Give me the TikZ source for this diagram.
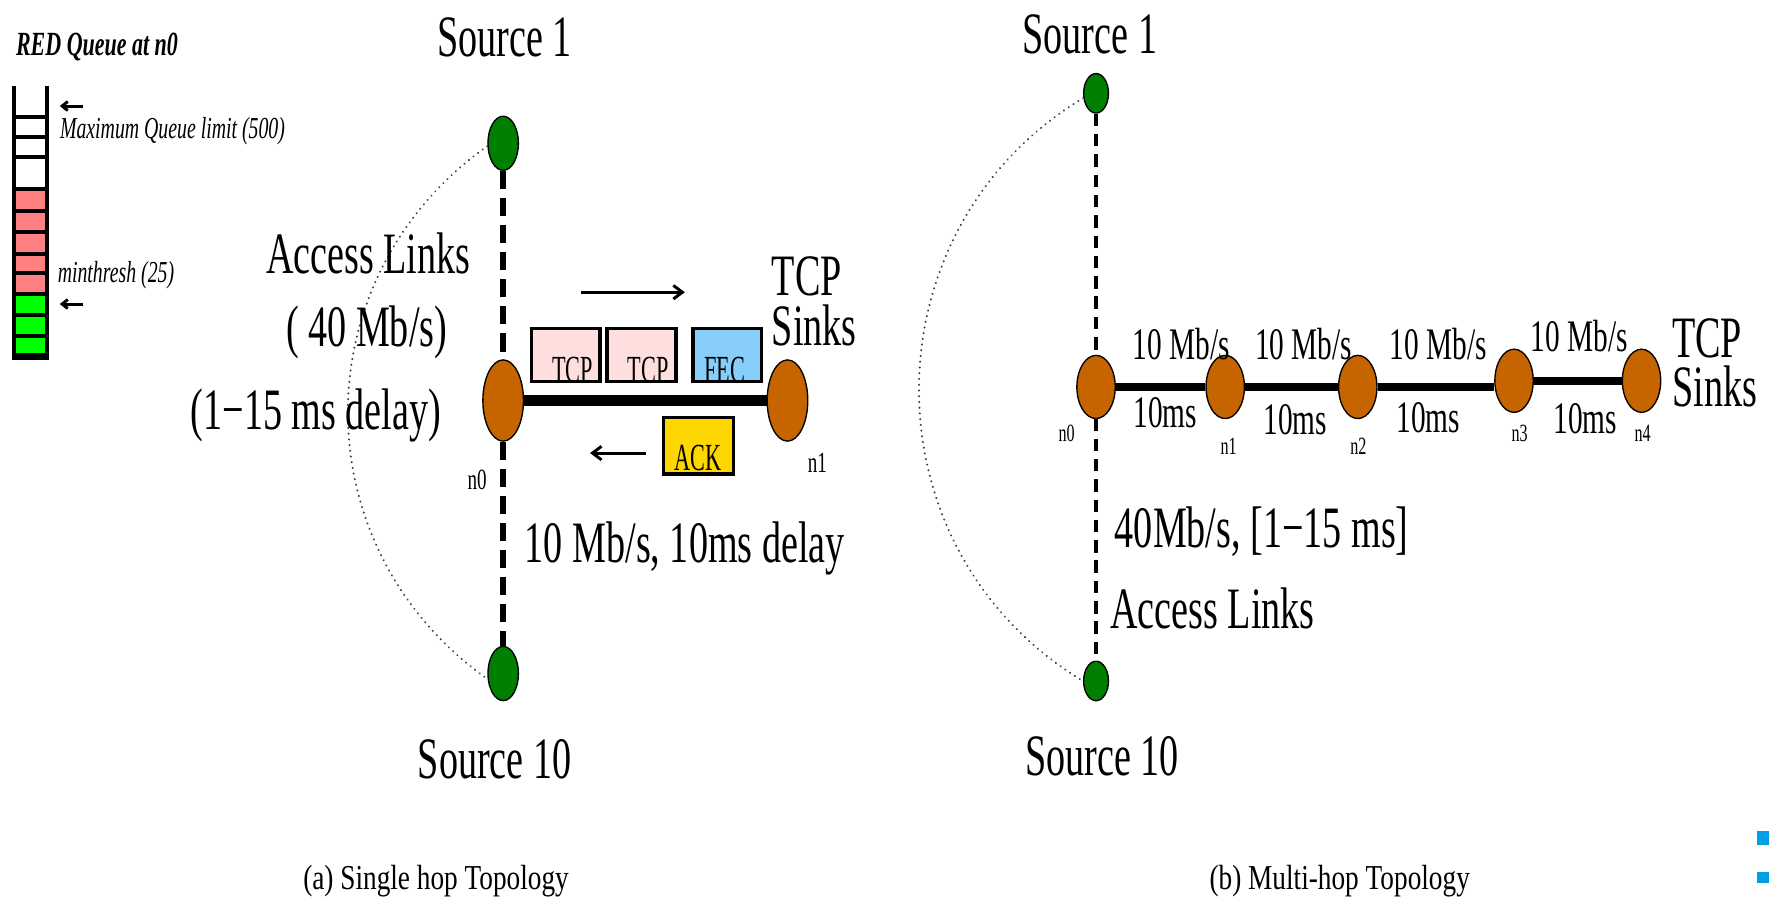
\documentclass[tikz,border=0pt]{standalone}
\usepackage{fontspec}
\setmainfont{Liberation Serif}[FakeStretch=0.65]
\newfontfamily\capf{Liberation Serif}[FakeStretch=0.78]
\newfontfamily\boxf{Liberation Serif}[FakeStretch=0.58]
\usetikzlibrary{shapes.geometric,arrows.meta,backgrounds}
\definecolor{srcgreen}{RGB}{0,128,0}
\definecolor{nodebrown}{RGB}{198,100,0}
\definecolor{qred}{RGB}{255,128,128}
\definecolor{qgreen}{RGB}{0,255,0}
\definecolor{tcppink}{RGB}{255,222,222}
\definecolor{fecblue}{RGB}{135,206,250}
\definecolor{ackgold}{RGB}{255,215,0}
\definecolor{logoblue}{RGB}{0,160,228}
\definecolor{dotgray}{RGB}{60,60,60}
\tikzset{
  srcnode/.style={ellipse, draw=black, line width=1.2, fill=srcgreen, inner sep=0pt, minimum width=27, minimum height=48},
  srcsmall/.style={srcnode, minimum width=22, minimum height=35},
  rtr/.style={ellipse, draw=black, line width=1.2, fill=nodebrown, inner sep=0pt, minimum width=36, minimum height=72},
  rtrsmall/.style={rtr, minimum width=34, minimum height=56},
  pkt/.style={rectangle, draw=black, line width=3.2, inner sep=0pt, minimum width=61, minimum height=47},
  bigtxt/.style={inner sep=0pt, font=\fontsize{52}{56}\selectfont},
  sinktxt/.style={inner sep=0pt, align=left, font=\fontsize{52}{44}\selectfont},
  midtxt/.style={inner sep=0pt, font=\fontsize{40}{44}\selectfont},
  lbltxt/.style={inner sep=0pt, font=\fontsize{26}{28}\selectfont},
  lblsmall/.style={inner sep=0pt, font=\fontsize{22}{24}\selectfont},
  boxtxt/.style={inner sep=0pt, font=\boxf\fontsize{34}{36}\selectfont},
  qtxt/.style={inner sep=0pt, font=\itshape\fontsize{27}{29}\selectfont},
  qtitle/.style={inner sep=0pt, font=\bfseries\itshape\fontsize{30}{32}\selectfont},
  captxt/.style={inner sep=0pt, font=\capf\fontsize{31}{33}\selectfont},
  accessthick/.style={line width=5, dash pattern=on 16 off 8},
  accessthin/.style={line width=3, dash pattern=on 11 off 7},
  arcdots/.style={dotgray, line width=1.9, line cap=round, dash pattern=on 0.1 off 5},
  linkthick/.style={line width=10.3},
  linkmid/.style={line width=7.5},
  arr/.style={line width=2.6, -{Straight Barb[length=8,width=12]}},
  qarr/.style={line width=2.6, -{Straight Barb[length=5,width=8]}},
  qline/.style={line width=3.5},
}
\begin{document}
\begin{tikzpicture}[x=1pt,y=-1pt]
\useasboundingbox (0,0) rectangle (1568,800);

% ---------------- RED queue ----------------
\node[qtitle, anchor=base west] (qt) at (14,48.8) {RED Queue at n0};
\fill[qred] (12.4,167.8) rectangle (41.4,260.6);
\fill[qgreen] (12.4,260.6) rectangle (41.4,316.2);
\foreach \yy in {103.4,121.7,138.9,167.8,186.7,206,225,242.3,260.6,279.2,297.8}
  \draw[qline] (12.4,\yy) -- (41.4,\yy);
\draw[qline] (12.4,76.2) -- (12.4,319);
\draw[qline] (41.4,76.2) -- (41.4,319);
\draw[line width=6] (10.7,316.2) -- (43.1,316.2);
\coordinate (qa1s) at (74,94);
\coordinate (qa1e) at (53,94);
\coordinate (qa2s) at (74,269.5);
\coordinate (qa2e) at (53,269.5);
\draw[qarr] (qa1s) -- (qa1e);
\draw[qarr] (qa2s) -- (qa2e);
\node[qtxt, anchor=base west] (qmax) at (53,122.6) {Maximum Queue limit (500)};
\node[qtxt, anchor=base west] (qmin) at (51,250.6) {minthresh (25)};

% ---------------- (a) single hop ----------------
\node[srcnode] (s1a) at (446,127) {};
\node[srcnode] (s10a) at (446,597) {};
\node[rtr] (n0a) at (446,355) {};
\node[rtr] (n1a) at (698,355) {};
\begin{scope}[on background layer]
  \fill[white] (0,0) rectangle (1568,800);
  \draw[accessthick] (s1a.south) -- (s10a.north);
  \draw[linkthick] (n0a) -- (n1a);
\end{scope}
\draw[arcdots] (s1a.190) .. controls +(-165,117) and +(-165,-117) .. (s10a.200);

\node[pkt, fill=tcppink] (p1) at (501.5,314.5) {};
\node[pkt, fill=tcppink] (p2) at (568.5,314.5) {};
\node[pkt, fill=fecblue] (pf) at (644.5,314.5) {};
\node[pkt, fill=ackgold, minimum width=62, minimum height=50] (pa) at (619,395) {};
\node[boxtxt, anchor=base] (p1t) at ([xshift=6pt,yshift=1pt]p1.south) {TCP};
\node[boxtxt, anchor=base] (p2t) at ([xshift=6pt,yshift=1pt]p2.south) {TCP};
\node[boxtxt, anchor=base] (pft) at ([xshift=-2pt,yshift=1pt]pf.south) {FEC};
\node[boxtxt, anchor=base] (pat) at ([yshift=5pt]pa.south) {ACK};

\coordinate (ar1s) at (515,259);
\coordinate (ar1e) at (607,259);
\coordinate (ar2s) at (573,401.6);
\coordinate (ar2e) at (523,401.6);
\draw[arr] (ar1s) -- (ar1e);
\draw[arr] (ar2s) -- (ar2e);

\node[bigtxt, anchor=base] (t1a) at (447,50) {Source 1};
\node[bigtxt, anchor=base] (t10a) at (438.5,690) {Source 10};
\node[bigtxt, anchor=base] (acc1) at (326.5,242) {Access Links};
\node[bigtxt, anchor=base] (acc2) at (325,307) {( 40 Mb/s)};
\node[bigtxt, anchor=base] (acc3) at (280,381) {(1−15 ms delay)};
\node[sinktxt, anchor=base west] (sk) at (684,306) {TCP\\Sinks};
\node[bigtxt, anchor=base west] (bw) at (465,499) {10 Mb/s, 10ms delay};
\node[lbltxt, anchor=base] (ln0a) at (423,434) {n0};
\node[lbltxt, anchor=base] (ln1a) at (724.5,418.5) {n1};

% ---------------- (b) multi hop ----------------
\node[srcsmall] (s1b) at (971.5,82.7) {};
\node[srcsmall] (s10b) at (971.5,603.6) {};
\node[rtrsmall] (m0) at (971.5,343) {};
\node[rtrsmall] (m1) at (1086,343) {};
\node[rtrsmall] (m2) at (1203.5,343) {};
\node[rtrsmall] (m3) at (1342,337.5) {};
\node[rtrsmall] (m4) at (1455,337.5) {};
\begin{scope}[on background layer]
  \draw[accessthin] (s1b.south) -- (s10b.north);
  \draw[linkmid] (m0) -- (m1);
  \draw[linkmid] (m1) -- (m2);
  \draw[linkmid] (m2.east) -- (m2.east -| m3.west);
  \draw[line width=7] (m3) -- (m4);
\end{scope}
\draw[arcdots] (s1b.200) .. controls +(-194,117) and +(-194,-117) .. (s10b.west);

\node[bigtxt, anchor=base] (t1b) at (966,47) {Source 1};
\node[bigtxt, anchor=base] (t10b) at (977,687) {Source 10};
\node[bigtxt, anchor=base west] (bwb) at (988,485) {40Mb/s, [1−15 ms]};
\node[bigtxt, anchor=base west] (accb) at (984,557) {Access Links};
\node[sinktxt, anchor=base west] (skb) at (1482,360.5) {TCP\\Sinks};

\node[midtxt, anchor=base] (r1) at (1047,319) {10 Mb/s};
\node[midtxt, anchor=base] (r2) at (1155.5,319) {10 Mb/s};
\node[midtxt, anchor=base] (r3) at (1275,319) {10 Mb/s};
\node[midtxt, anchor=base] (r4) at (1400,312) {10 Mb/s};
\node[midtxt, anchor=base] (d1) at (1033,379) {10ms};
\node[midtxt, anchor=base] (d2) at (1148,385) {10ms};
\node[midtxt, anchor=base] (d3) at (1266,383) {10ms};
\node[midtxt, anchor=base] (d4) at (1405,384) {10ms};

\node[lblsmall, anchor=base] (lm0) at (945.5,391.5) {n0};
\node[lblsmall, anchor=base] (lm1) at (1089,403) {n1};
\node[lblsmall, anchor=base] (lm2) at (1204,403) {n2};
\node[lblsmall, anchor=base] (lm3) at (1347,391.5) {n3};
\node[lblsmall, anchor=base] (lm4) at (1456,391.5) {n4};

% ---------------- captions ----------------
\node[captxt, anchor=base] (capa) at (386.5,788) {(a) Single hop Topology};
\node[captxt, anchor=base] (capb) at (1187.5,788) {(b) Multi-hop Topology};

% corner marks
\fill[logoblue] (1557,737) rectangle (1568,749);
\fill[logoblue] (1557,773) rectangle (1568,783);
\end{tikzpicture}
\end{document}
